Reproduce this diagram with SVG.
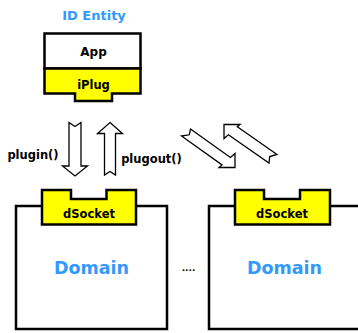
<svg xmlns="http://www.w3.org/2000/svg" width="358" height="333" viewBox="0 0 358 333">
<style>
.t{font-family:"DejaVu Sans","Liberation Sans",sans-serif;font-weight:bold;fill:#000;text-anchor:middle}
.blue{fill:#3399ff}
.box{fill:#fff;stroke:#000;stroke-width:2.5}
.plug{fill:#ffff00;stroke:#000;stroke-width:2.5;stroke-linejoin:miter}
.arr{fill:#fff;stroke:#000;stroke-width:1.3;stroke-linejoin:miter}
</style>
<rect width="358" height="333" fill="#fff"/>
<g id="id-entity">
<text class="t blue" x="94" y="19.5" font-size="13">ID Entity</text>
<rect class="box" x="44.5" y="33.5" width="96" height="35"/>
<polygon class="plug" points="44.5,68.5 140.5,68.5 140.5,93.5 112,93.5 112,101 75,101 75,93.5 44.5,93.5"/>
<text class="t" x="93.5" y="56" font-size="12">App</text>
<text class="t" x="93.5" y="89" font-size="11.5">iPlug</text>
</g>
<g id="domain-1">
<rect class="box" x="16" y="206" width="151" height="123"/>
<polygon class="plug" points="42,190 71,190 71,199 106.5,199 106.5,190 136,190 136,224.5 42,224.5"/>
<text class="t" x="89" y="217.5" font-size="11.5">dSocket</text>
<text class="t blue" x="91.5" y="274" font-size="17.5">Domain</text>
</g>
<g id="domain-2">
<path class="box" d="M360,206 H209 V329 H360"/>
<polygon class="plug" points="235,190 264,190 264,199 300,199 300,190 330,190 330,224.5 235,224.5"/>
<text class="t" x="282" y="217.5" font-size="11.5">dSocket</text>
<text class="t blue" x="284.5" y="274" font-size="17.5">Domain</text>
</g>
<g id="ellipsis">
<text class="t" x="188.5" y="271" font-size="9">....</text>
</g>
<g id="connectors">
<polygon class="arr" points="69,122.5 75,126.5 81,122.5 81,166 87.5,166 75,176 62.5,166 69,166"/>
<polygon class="arr" points="110,122.5 122.5,133.5 115.5,133.5 115.5,175 110,171.5 104.5,175 104.5,133.5 97.5,133.5"/>
<polygon class="arr" points="190.5,129 230.4,157.5 235,153.5 235,167.5 219,167.5 222,164.9 181.5,136 189.3,134.8"/>
<polygon class="arr" points="224,124.5 240,124.5 237.3,126.8 277,154.5 269.7,156.5 269,163 228.4,134.7 224,138.5"/>
<text class="t" x="33" y="158.5" font-size="11.5">plugin()</text>
<text class="t" x="151.5" y="162.5" font-size="11.5">plugout()</text>
</g>
</svg>
